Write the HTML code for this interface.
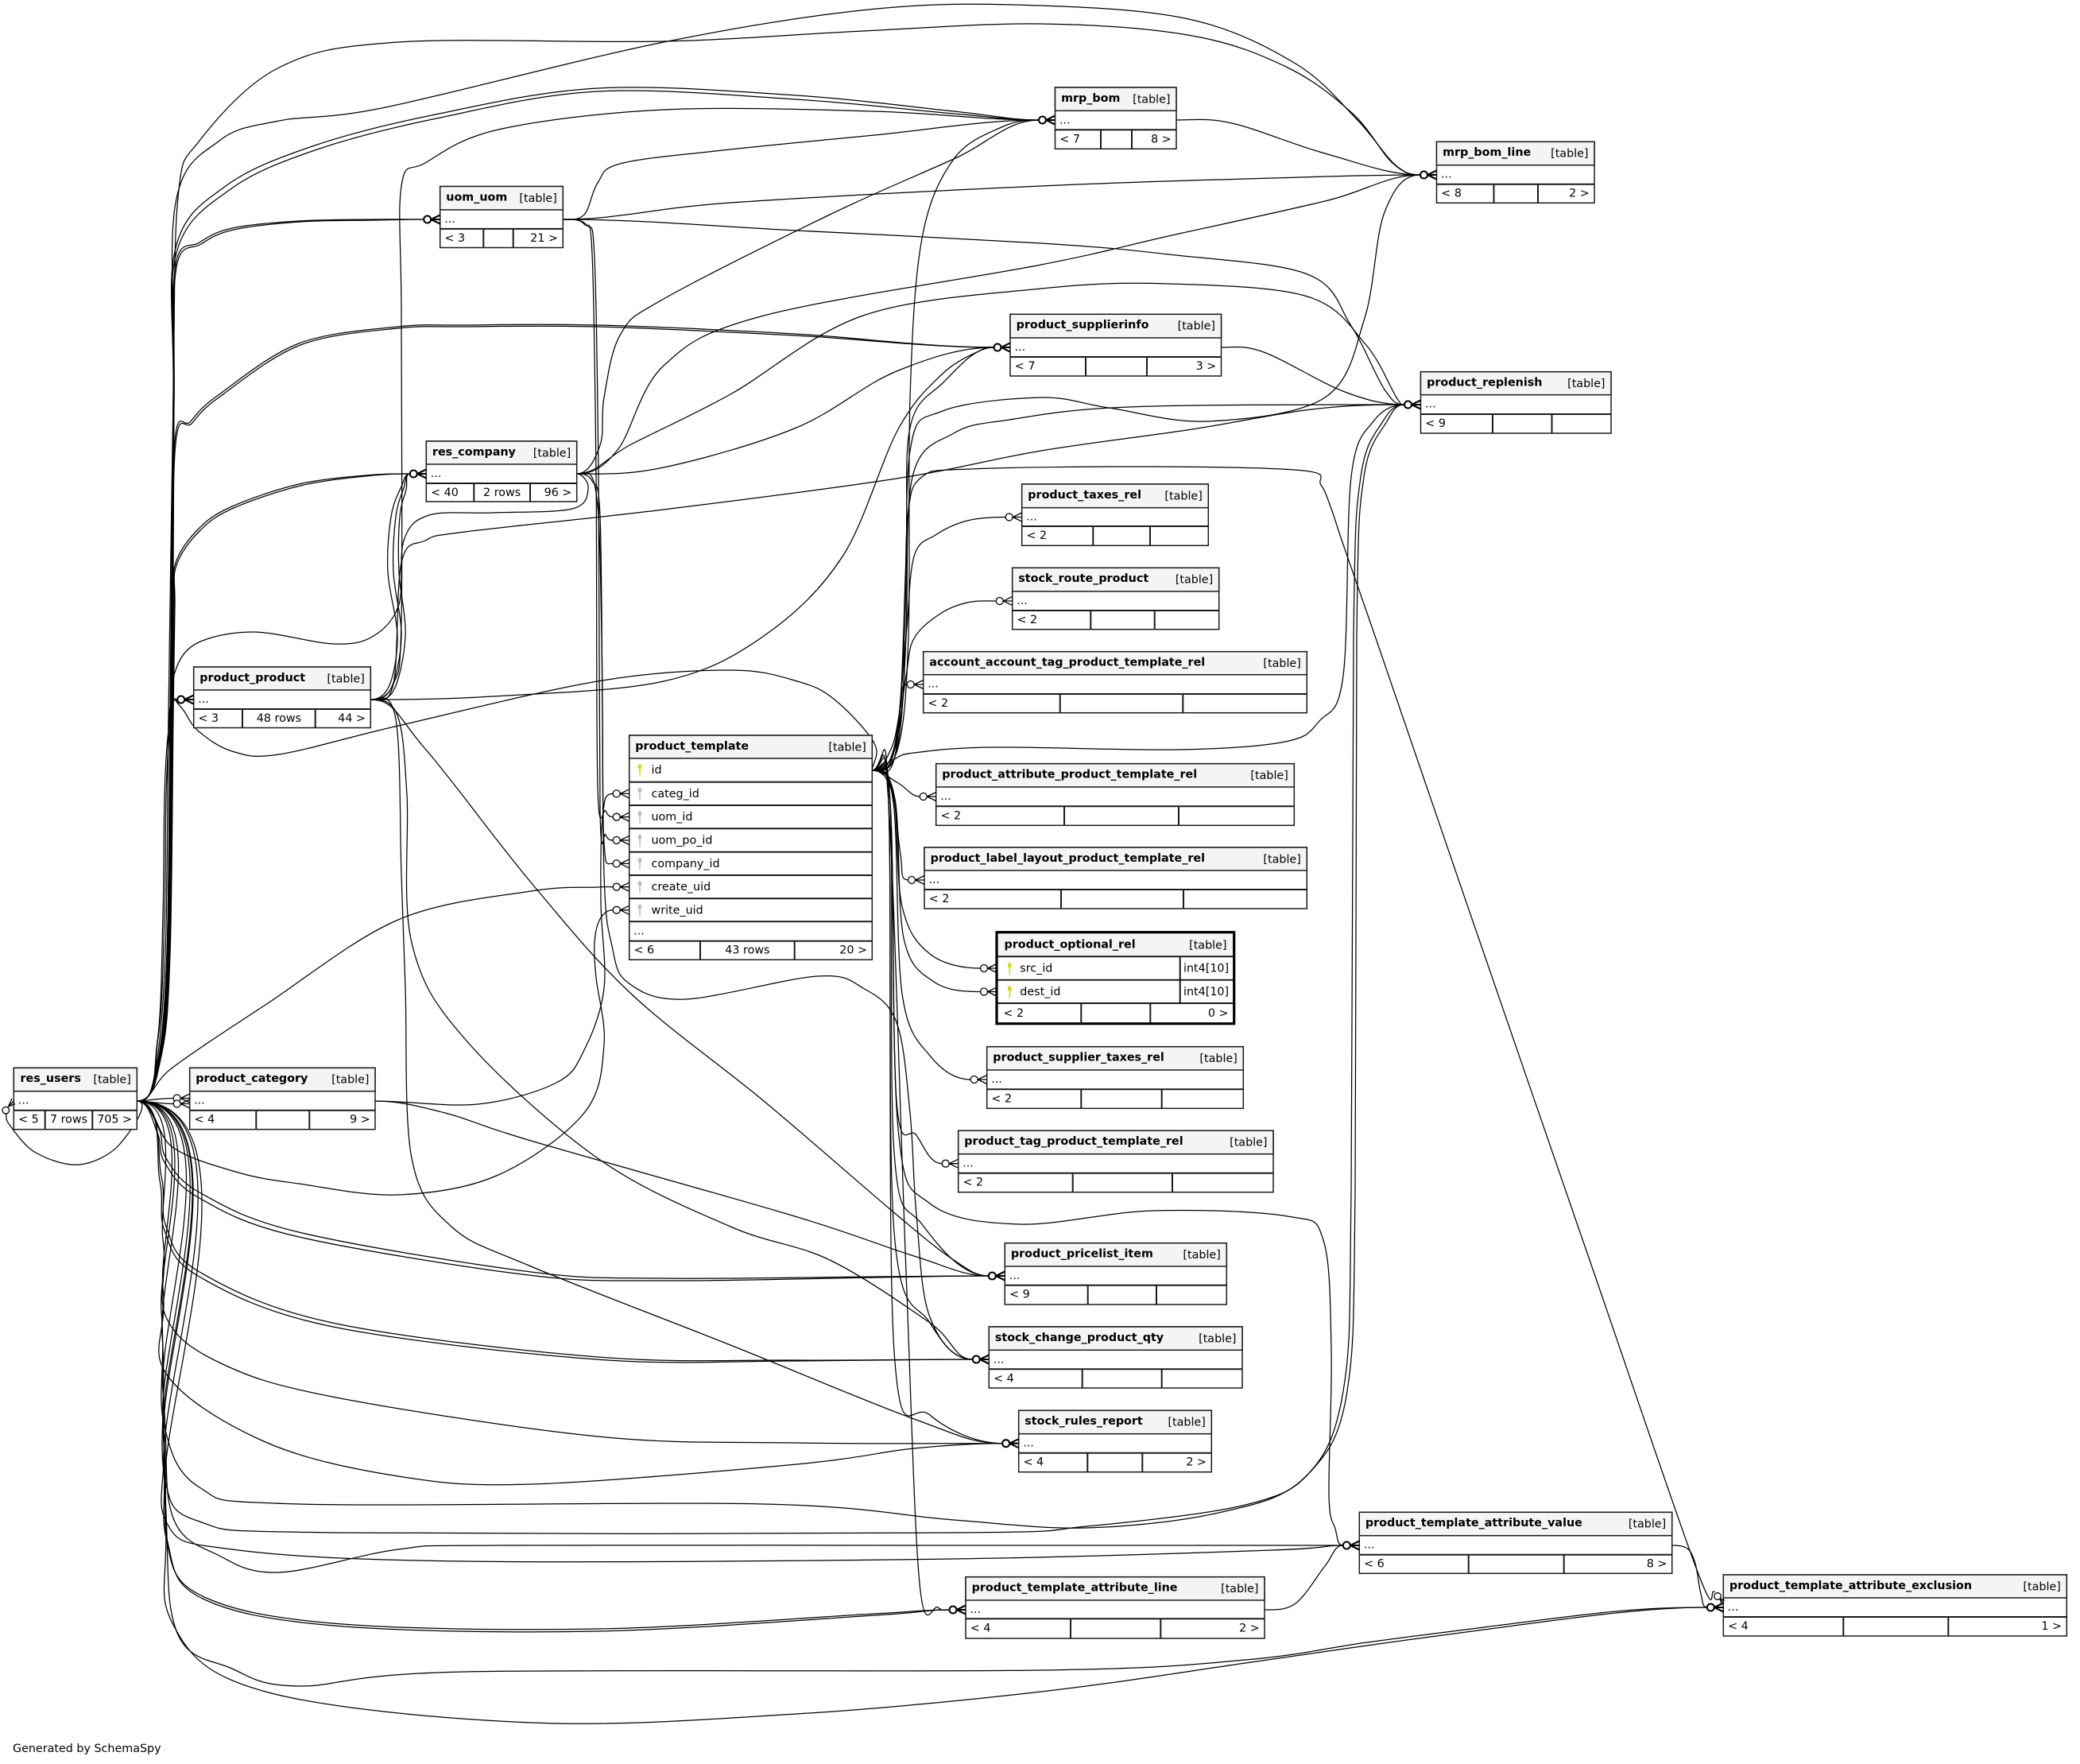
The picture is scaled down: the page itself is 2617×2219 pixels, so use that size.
<!DOCTYPE html>
<html><head><meta charset="utf-8"><title>SchemaSpy diagram</title>
<style>
html,body{margin:0;padding:0;background:#fff;}
svg{display:block;}
text{font-family:"DejaVu Sans","Liberation Sans",sans-serif;font-size:14.3px;fill:#000;}
.n{font-weight:bold;}
.e{text-anchor:end;}
.m{text-anchor:middle;}
.b{fill:#fff;stroke:#1a1a1a;stroke-width:1.5;}
.h{fill:#f4f4f4;stroke:#1a1a1a;stroke-width:1.5;}
.l{stroke:#1a1a1a;stroke-width:2;}
.k{fill:#d8d800;}
.g{fill:#bdbdbd;}
</style></head>
<body>
<svg id="s" xmlns="http://www.w3.org/2000/svg" width="2617" height="2219" viewBox="0 0 2617 2219">
<rect x="0" y="0" width="2617" height="2219" fill="#fff"/>
<g id="edges" fill="none" stroke="#000" stroke-width="1.25"></g>

<!-- mrp_bom -->
<g><rect class="b" x="1327.5" y="110" width="152.5" height="77.3"/><rect class="h" x="1327.5" y="110" width="152.5" height="29.3"/>
<line class="l" x1="1327.5" y1="163.3" x2="1480" y2="163.3"/><line class="l" x1="1385" y1="163.3" x2="1385" y2="187.3"/><line class="l" x1="1424" y1="163.3" x2="1424" y2="187.3"/>
<text class="n" x="1335.1" y="127.8">mrp_bom</text><text class="e" x="1472.5" y="129.4">[table]</text>
<text x="1333" y="155.3">...</text><text x="1333.3" y="179.3">&lt; 7</text><text class="e" x="1473.7" y="179.3">8 &gt;</text></g>

<!-- mrp_bom_line -->
<g><rect class="b" x="1807.5" y="178.3" width="198.5" height="77"/><rect class="h" x="1807.5" y="178.3" width="198.5" height="29.4"/>
<line class="l" x1="1807.5" y1="231.7" x2="2006" y2="231.7"/><line class="l" x1="1879.5" y1="231.7" x2="1879.5" y2="255.3"/><line class="l" x1="1935" y1="231.7" x2="1935" y2="255.3"/>
<text class="n" x="1815.1" y="196.1">mrp_bom_line</text><text class="e" x="1998.5" y="197.7">[table]</text>
<text x="1813" y="223.7">...</text><text x="1813.3" y="247.7">&lt; 8</text><text class="e" x="1999.7" y="247.7">2 &gt;</text></g>

<!-- uom_uom -->
<g><rect class="b" x="553.7" y="234.5" width="154.6" height="77"/><rect class="h" x="553.7" y="234.5" width="154.6" height="29.4"/>
<line class="l" x1="553.7" y1="287.9" x2="708.3" y2="287.9"/><line class="l" x1="608.3" y1="287.9" x2="608.3" y2="311.5"/><line class="l" x1="645.7" y1="287.9" x2="645.7" y2="311.5"/>
<text class="n" x="561.3" y="252.3">uom_uom</text><text class="e" x="700.8" y="253.9">[table]</text>
<text x="559.2" y="279.9">...</text><text x="559.5" y="303.9">&lt; 3</text><text class="e" x="702" y="303.9">21 &gt;</text></g>

<!-- product_supplierinfo -->
<g><rect class="b" x="1271" y="395.3" width="265.5" height="77.7"/><rect class="h" x="1271" y="395.3" width="265.5" height="29.7"/>
<line class="l" x1="1271" y1="449" x2="1536.5" y2="449"/><line class="l" x1="1366" y1="449" x2="1366" y2="473"/><line class="l" x1="1443" y1="449" x2="1443" y2="473"/>
<text class="n" x="1278.6" y="413.1">product_supplierinfo</text><text class="e" x="1529" y="414.7">[table]</text>
<text x="1276.5" y="441">...</text><text x="1276.8" y="465">&lt; 7</text><text class="e" x="1530.2" y="465">3 &gt;</text></g>

<!-- product_replenish -->
<g><rect class="b" x="1787.5" y="467.7" width="239.5" height="77.3"/><rect class="h" x="1787.5" y="467.7" width="239.5" height="29"/>
<line class="l" x1="1787.5" y1="521" x2="2027" y2="521"/><line class="l" x1="1878" y1="521" x2="1878" y2="545"/><line class="l" x1="1952.5" y1="521" x2="1952.5" y2="545"/>
<text class="n" x="1795.1" y="485.5">product_replenish</text><text class="e" x="2019.5" y="487.1">[table]</text>
<text x="1793" y="512.7">...</text><text x="1793.3" y="537">&lt; 9</text></g>

<!-- res_company -->
<g><rect class="b" x="536.3" y="555" width="189.4" height="76"/><rect class="h" x="536.3" y="555" width="189.4" height="29"/>
<line class="l" x1="536.3" y1="608" x2="725.7" y2="608"/><line class="l" x1="596.3" y1="608" x2="596.3" y2="631"/><line class="l" x1="667" y1="608" x2="667" y2="631"/>
<text class="n" x="543.9" y="572.8">res_company</text><text class="e" x="718.2" y="574.4">[table]</text>
<text x="541.8" y="600">...</text><text x="542.1" y="624">&lt; 40</text><text class="m" x="631.6" y="624">2 rows</text><text class="e" x="719.4" y="624">96 &gt;</text></g>

<!-- product_taxes_rel -->
<g><rect class="b" x="1285.7" y="609" width="234.6" height="77.3"/><rect class="h" x="1285.7" y="609" width="234.6" height="29.7"/>
<line class="l" x1="1285.7" y1="662" x2="1520.3" y2="662"/><line class="l" x1="1375.3" y1="662" x2="1375.3" y2="686.3"/><line class="l" x1="1447" y1="662" x2="1447" y2="686.3"/>
<text class="n" x="1293.3" y="626.8">product_taxes_rel</text><text class="e" x="1512.8" y="628.4">[table]</text>
<text x="1291.2" y="654.7">...</text><text x="1291.5" y="678">&lt; 2</text></g>

<!-- stock_route_product -->
<g><rect class="b" x="1273.7" y="714.3" width="260" height="77.4"/><rect class="h" x="1273.7" y="714.3" width="260" height="29.7"/>
<line class="l" x1="1273.7" y1="768" x2="1533.7" y2="768"/><line class="l" x1="1372.3" y1="768" x2="1372.3" y2="791.7"/><line class="l" x1="1452.7" y1="768" x2="1452.7" y2="791.7"/>
<text class="n" x="1281.3" y="732.1">stock_route_product</text><text class="e" x="1526.2" y="733.7">[table]</text>
<text x="1279.2" y="760">...</text><text x="1279.5" y="784">&lt; 2</text></g>

<!-- account_account_tag_product_template_rel -->
<g><rect class="b" x="1161.7" y="819.7" width="482.6" height="77"/><rect class="h" x="1161.7" y="819.7" width="482.6" height="29"/>
<line class="l" x1="1161.7" y1="873" x2="1644.3" y2="873"/><line class="l" x1="1333.7" y1="873" x2="1333.7" y2="896.7"/><line class="l" x1="1488.3" y1="873" x2="1488.3" y2="896.7"/>
<text class="n" x="1169.3" y="837.5">account_account_tag_product_template_rel</text><text class="e" x="1636.8" y="839.1">[table]</text>
<text x="1167.2" y="864.7">...</text><text x="1167.5" y="889">&lt; 2</text></g>

<!-- product_product -->
<g><rect class="b" x="243.7" y="839" width="222.6" height="76.5"/><rect class="h" x="243.7" y="839" width="222.6" height="29"/>
<line class="l" x1="243.7" y1="892" x2="466.3" y2="892"/><line class="l" x1="305" y1="892" x2="305" y2="915.5"/><line class="l" x1="396.7" y1="892" x2="396.7" y2="915.5"/>
<text class="n" x="251.3" y="856.8">product_product</text><text class="e" x="458.8" y="858.4">[table]</text>
<text x="249.2" y="884">...</text><text x="249.5" y="908">&lt; 3</text><text class="m" x="350.9" y="908">48 rows</text><text class="e" x="460" y="908">44 &gt;</text></g>

<!-- product_attribute_product_template_rel -->
<g><rect class="b" x="1177.7" y="960.7" width="450.6" height="77.6"/><rect class="h" x="1177.7" y="960.7" width="450.6" height="29.3"/>
<line class="l" x1="1177.7" y1="1014.3" x2="1628.3" y2="1014.3"/><line class="l" x1="1339" y1="1014.3" x2="1339" y2="1038.3"/><line class="l" x1="1483" y1="1014.3" x2="1483" y2="1038.3"/>
<text class="n" x="1185.3" y="978.5">product_attribute_product_template_rel</text><text class="e" x="1620.8" y="980.1">[table]</text>
<text x="1183.2" y="1006">...</text><text x="1183.5" y="1030.3">&lt; 2</text></g>

<!-- product_label_layout_product_template_rel -->
<g><rect class="b" x="1163" y="1066" width="481.3" height="77"/><rect class="h" x="1163" y="1066" width="481.3" height="29"/>
<line class="l" x1="1163" y1="1119" x2="1644.3" y2="1119"/><line class="l" x1="1335" y1="1119" x2="1335" y2="1143"/><line class="l" x1="1489" y1="1119" x2="1489" y2="1143"/>
<text class="n" x="1170.6" y="1083.8">product_label_layout_product_template_rel</text><text class="e" x="1636.8" y="1085.4">[table]</text>
<text x="1168.5" y="1111">...</text><text x="1168.8" y="1135">&lt; 2</text></g>

<!-- product_template -->
<g><rect class="b" x="791.7" y="925" width="305.6" height="282.3"/><rect class="h" x="791.7" y="925" width="305.6" height="29"/>
<line class="l" x1="791.7" y1="983.7" x2="1097.3" y2="983.7"/><line class="l" x1="791.7" y1="1013" x2="1097.3" y2="1013"/>
<line class="l" x1="791.7" y1="1042.3" x2="1097.3" y2="1042.3"/><line class="l" x1="791.7" y1="1071.7" x2="1097.3" y2="1071.7"/>
<line class="l" x1="791.7" y1="1101" x2="1097.3" y2="1101"/><line class="l" x1="791.7" y1="1130.3" x2="1097.3" y2="1130.3"/>
<line class="l" x1="791.7" y1="1159.3" x2="1097.3" y2="1159.3"/><line class="l" x1="791.7" y1="1183.7" x2="1097.3" y2="1183.7"/>
<line class="l" x1="881" y1="1183.7" x2="881" y2="1207.3"/><line class="l" x1="999.7" y1="1183.7" x2="999.7" y2="1207.3"/>
<text class="n" x="799.3" y="942.8">product_template</text><text class="e" x="1089.8" y="944.4">[table]</text>
<g class="k"><ellipse cx="805" cy="964.5" rx="2.4" ry="3.3"/><rect x="804.3" y="966" width="1.5" height="10.7"/></g>
<g class="g"><ellipse cx="805" cy="994.2" rx="2.4" ry="3.3"/><rect x="804.3" y="995.7" width="1.5" height="10.7"/>
<ellipse cx="805" cy="1023.5" rx="2.4" ry="3.3"/><rect x="804.3" y="1025" width="1.5" height="10.7"/>
<ellipse cx="805" cy="1052.8" rx="2.4" ry="3.3"/><rect x="804.3" y="1054.3" width="1.5" height="10.7"/>
<ellipse cx="805" cy="1082.2" rx="2.4" ry="3.3"/><rect x="804.3" y="1083.7" width="1.5" height="10.7"/>
<ellipse cx="805" cy="1111.5" rx="2.4" ry="3.3"/><rect x="804.3" y="1113" width="1.5" height="10.7"/>
<ellipse cx="805" cy="1140.8" rx="2.4" ry="3.3"/><rect x="804.3" y="1142.3" width="1.5" height="10.7"/></g>
<text x="819.5" y="973.2">id</text><text x="819.5" y="1002.9">categ_id</text><text x="819.5" y="1032.2">uom_id</text>
<text x="819.5" y="1061.5">uom_po_id</text><text x="819.5" y="1090.9">company_id</text><text x="819.5" y="1120.2">create_uid</text>
<text x="819.5" y="1149.5">write_uid</text><text x="797.2" y="1175.3">...</text>
<text x="797.5" y="1199.7">&lt; 6</text><text class="m" x="940.4" y="1199.7">43 rows</text><text class="e" x="1091" y="1199.7">20 &gt;</text></g>

<!-- product_optional_rel -->
<g><rect x="1254" y="1172.7" width="298.7" height="115" fill="#fff"/><rect x="1254" y="1172.7" width="298.7" height="30.6" fill="#f4f4f4"/>
<line class="l" x1="1254" y1="1203.3" x2="1552.7" y2="1203.3"/><line class="l" x1="1254" y1="1232.7" x2="1552.7" y2="1232.7"/>
<line class="l" x1="1254" y1="1262" x2="1552.7" y2="1262"/><line class="l" x1="1484.7" y1="1203.3" x2="1484.7" y2="1262"/>
<line class="l" x1="1360.3" y1="1262" x2="1360.3" y2="1287.7"/><line class="l" x1="1447.3" y1="1262" x2="1447.3" y2="1287.7"/>
<rect x="1254" y="1172.7" width="298.7" height="115" fill="none" stroke="#000" stroke-width="3.2"/>
<text class="n" x="1263.5" y="1192.3">product_optional_rel</text><text class="e" x="1543.5" y="1193.5">[table]</text>
<g class="k"><ellipse cx="1270.3" cy="1214.3" rx="2.4" ry="3.3"/><rect x="1269.6" y="1215.8" width="1.5" height="10.7"/>
<ellipse cx="1270.3" cy="1243.6" rx="2.4" ry="3.3"/><rect x="1269.6" y="1245.1" width="1.5" height="10.7"/></g>
<text x="1283.3" y="1222.5">src_id</text><text x="1489" y="1222.5">int4[10]</text>
<text x="1283.3" y="1251.8">dest_id</text><text x="1489" y="1251.8">int4[10]</text>
<text x="1262.5" y="1279">&lt; 2</text><text class="e" x="1545.5" y="1279">0 &gt;</text></g>

<!-- product_supplier_taxes_rel -->
<g><rect class="b" x="1241.7" y="1316.7" width="322.6" height="77.6"/><rect class="h" x="1241.7" y="1316.7" width="322.6" height="29.3"/>
<line class="l" x1="1241.7" y1="1370.3" x2="1564.3" y2="1370.3"/><line class="l" x1="1360.3" y1="1370.3" x2="1360.3" y2="1394.3"/><line class="l" x1="1461.7" y1="1370.3" x2="1461.7" y2="1394.3"/>
<text class="n" x="1249.3" y="1334.5">product_supplier_taxes_rel</text><text class="e" x="1556.8" y="1336.1">[table]</text>
<text x="1247.2" y="1362">...</text><text x="1247.5" y="1386.3">&lt; 2</text></g>

<!-- product_tag_product_template_rel -->
<g><rect class="b" x="1205.7" y="1422.3" width="396.3" height="77.4"/><rect class="h" x="1205.7" y="1422.3" width="396.3" height="29.4"/>
<line class="l" x1="1205.7" y1="1475.7" x2="1602" y2="1475.7"/><line class="l" x1="1349.7" y1="1475.7" x2="1349.7" y2="1499.7"/><line class="l" x1="1475" y1="1475.7" x2="1475" y2="1499.7"/>
<text class="n" x="1213.3" y="1440.1">product_tag_product_template_rel</text><text class="e" x="1594.5" y="1441.7">[table]</text>
<text x="1211.2" y="1467.7">...</text><text x="1211.5" y="1491.7">&lt; 2</text></g>

<!-- res_users -->
<g><rect class="b" x="17.3" y="1343.3" width="155" height="77.4"/><rect class="h" x="17.3" y="1343.3" width="155" height="29.4"/>
<line class="l" x1="17.3" y1="1396.7" x2="172.3" y2="1396.7"/><line class="l" x1="56.7" y1="1396.7" x2="56.7" y2="1420.7"/><line class="l" x1="116.3" y1="1396.7" x2="116.3" y2="1420.7"/>
<text class="n" x="25.5" y="1361.1">res_users</text><text class="e" x="164.8" y="1362.7">[table]</text>
<text x="22.8" y="1388.7">...</text><text x="23.1" y="1412.7">&lt; 5</text><text class="m" x="86.5" y="1412.7">7 rows</text><text class="e" x="166" y="1412.7">705 &gt;</text></g>

<!-- product_category -->
<g><rect class="b" x="238.7" y="1343.3" width="233.3" height="77.4"/><rect class="h" x="238.7" y="1343.3" width="233.3" height="29.4"/>
<line class="l" x1="238.7" y1="1396.7" x2="472" y2="1396.7"/><line class="l" x1="322.3" y1="1396.7" x2="322.3" y2="1420.7"/><line class="l" x1="389.3" y1="1396.7" x2="389.3" y2="1420.7"/>
<text class="n" x="246.3" y="1361.1">product_category</text><text class="e" x="464.5" y="1362.7">[table]</text>
<text x="244.2" y="1388.7">...</text><text x="244.5" y="1412.7">&lt; 4</text><text class="e" x="465.7" y="1412.7">9 &gt;</text></g>

<!-- product_pricelist_item -->
<g><rect class="b" x="1264.3" y="1563.7" width="279" height="77.3"/><rect class="h" x="1264.3" y="1563.7" width="279" height="29.3"/>
<line class="l" x1="1264.3" y1="1616.7" x2="1543.3" y2="1616.7"/><line class="l" x1="1368.7" y1="1616.7" x2="1368.7" y2="1641"/><line class="l" x1="1455" y1="1616.7" x2="1455" y2="1641"/>
<text class="n" x="1271.9" y="1581.5">product_pricelist_item</text><text class="e" x="1535.8" y="1583.1">[table]</text>
<text x="1269.8" y="1609">...</text><text x="1270.1" y="1632.7">&lt; 9</text></g>

<!-- stock_change_product_qty -->
<g><rect class="b" x="1244.3" y="1669" width="318.7" height="77"/><rect class="h" x="1244.3" y="1669" width="318.7" height="29.3"/>
<line class="l" x1="1244.3" y1="1722.3" x2="1563" y2="1722.3"/><line class="l" x1="1361.7" y1="1722.3" x2="1361.7" y2="1746"/><line class="l" x1="1461.7" y1="1722.3" x2="1461.7" y2="1746"/>
<text class="n" x="1251.9" y="1686.8">stock_change_product_qty</text><text class="e" x="1555.5" y="1688.4">[table]</text>
<text x="1249.8" y="1714.3">...</text><text x="1250.1" y="1738.3">&lt; 4</text></g>

<!-- stock_rules_report -->
<g><rect class="b" x="1281.7" y="1774.3" width="242.6" height="77.4"/><rect class="h" x="1281.7" y="1774.3" width="242.6" height="29.4"/>
<line class="l" x1="1281.7" y1="1827.7" x2="1524.3" y2="1827.7"/><line class="l" x1="1368.3" y1="1827.7" x2="1368.3" y2="1851.7"/><line class="l" x1="1437.3" y1="1827.7" x2="1437.3" y2="1851.7"/>
<text class="n" x="1289.3" y="1792.1">stock_rules_report</text><text class="e" x="1516.8" y="1793.7">[table]</text>
<text x="1287.2" y="1819.7">...</text><text x="1287.5" y="1843.7">&lt; 4</text><text class="e" x="1518" y="1843.7">2 &gt;</text></g>

<!-- product_template_attribute_value -->
<g><rect class="b" x="1710.3" y="1902.3" width="393.4" height="77"/><rect class="h" x="1710.3" y="1902.3" width="393.4" height="29.4"/>
<line class="l" x1="1710.3" y1="1955.7" x2="2103.7" y2="1955.7"/><line class="l" x1="1847.7" y1="1955.7" x2="1847.7" y2="1979.3"/><line class="l" x1="1967.7" y1="1955.7" x2="1967.7" y2="1979.3"/>
<text class="n" x="1717.9" y="1920.1">product_template_attribute_value</text><text class="e" x="2096.2" y="1921.7">[table]</text>
<text x="1715.8" y="1947.7">...</text><text x="1716.1" y="1971.7">&lt; 6</text><text class="e" x="2097.4" y="1971.7">8 &gt;</text></g>

<!-- product_template_attribute_line -->
<g><rect class="b" x="1215" y="1983.7" width="376" height="77.3"/><rect class="h" x="1215" y="1983.7" width="376" height="29.3"/>
<line class="l" x1="1215" y1="2036.3" x2="1591" y2="2036.3"/><line class="l" x1="1347" y1="2036.3" x2="1347" y2="2061"/><line class="l" x1="1460.3" y1="2036.3" x2="1460.3" y2="2061"/>
<text class="n" x="1222.6" y="2001.5">product_template_attribute_line</text><text class="e" x="1583.5" y="2003.1">[table]</text>
<text x="1220.5" y="2029">...</text><text x="1220.8" y="2052.3">&lt; 4</text><text class="e" x="1584.7" y="2052.3">2 &gt;</text></g>

<!-- product_template_attribute_exclusion -->
<g><rect class="b" x="2168.3" y="1981" width="432" height="77"/><rect class="h" x="2168.3" y="1981" width="432" height="29"/>
<line class="l" x1="2168.3" y1="2034" x2="2600.3" y2="2034"/><line class="l" x1="2319.3" y1="2034" x2="2319.3" y2="2058"/><line class="l" x1="2451.3" y1="2034" x2="2451.3" y2="2058"/>
<text class="n" x="2175.9" y="1998.8">product_template_attribute_exclusion</text><text class="e" x="2592.8" y="2000.4">[table]</text>
<text x="2173.8" y="2026">...</text><text x="2174.1" y="2050">&lt; 4</text><text class="e" x="2594" y="2050">1 &gt;</text></g>

<text x="16" y="2204">Generated by SchemaSpy</text>

<g id="marks" fill="#fff" stroke="#000"></g>
</svg>
<script>
(function(){
var NS='http://www.w3.org/2000/svg';
var eg=document.getElementById('edges'), mg=document.getElementById('marks');
var PR={RU:[172.3,1385],PP:[466.3,880],UOM:[708.3,276],RC:[725.7,596],PT:[1097.3,969],PC:[472,1385],MB:[1480,151],SI:[1536.5,437],AV:[2103.7,1944],AL:[1591,2025]};
var CH={mb:[1327.5,151],mbl:[1807.5,220],uom:[553.7,276],si:[1271,437],rep:[1787.5,509],rc:[536.3,596],tax:[1285.7,650.5],route:[1273.7,756],acct:[1161.7,861],attr:[1177.7,1002],label:[1163,1107],osrc:[1254,1218],odst:[1254,1247.5],stax:[1241.7,1358],tag:[1205.7,1463.7],price:[1264.3,1605],chg:[1244.3,1710],rules:[1281.7,1815.7],av:[1710.3,1944],al:[1215,2025],excl:[2168.3,2022],pp:[243.7,880],pca:[238.7,1381.5],pcb:[238.7,1388.5],categ:[791.7,998.4],uomid:[791.7,1027.7],uompo:[791.7,1057],comp:[791.7,1086.4],cre:[791.7,1115.7],wri:[791.7,1144.8]};
var E=[
['RU','mbl',[[195,1350],[208,1200],[212,900],[218,500],[224,248],[251,177],[351,85],[501,53],[835,52],[1086,39],[1310,30],[1500,45],[1620,85],[1702,143],[1752,205]]],
['RU','mbl',[[197,1345],[210,1200],[214,900],[219,500],[221,255],[276,177],[351,152],[485,135],[835,53],[1103,11],[1310,7],[1500,25],[1630,80],[1707,150],[1755,207]]],
['RU','mb',[[198,1340],[210,1200],[214,900],[218,500],[221,312],[284,234],[393,184],[543,145],[752,111],[1002,120],[1200,140]]],
['RU','mb',[[199,1338],[211,1200],[215,900],[219,500],[222,318],[290,238],[399,188],[549,149],[752,115],[1002,125],[1200,143]]],
['RU','uom',[[200,1335],[212,1200],[216,900],[218,500],[221,333],[251,305],[292,287],[376,278],[470,276]]],
['RU','uom',[[201,1333],[213,1200],[217,900],[219,500],[222,336],[253,307],[294,289],[378,279],[470,277]]],
['RU','si',[[201,1330],[212,1200],[216,900],[219,567],[240,530],[276,496],[376,432],[500,411],[585,409],[752,409],[1000,420]]],
['RU','si',[[202,1328],[213,1200],[217,900],[220,570],[242,532],[278,498],[378,434],[500,413],[585,411],[752,411],[1000,422]]],
['RU','rc',[[202,1330],[213,1200],[217,900],[219,760],[221,708],[250,665],[292,637],[376,609],[460,598]]],
['RU','rc',[[203,1328],[214,1200],[218,900],[220,762],[222,711],[252,667],[294,639],[378,611],[460,599]]],
['RU','pp',[[198,1310],[205,1150],[207,1000],[212,920]]],
['RU','pp',[[199,1305],[207,1150],[209,1000],[214,915]]],
['RU','cre',[[217,1343],[334,1264],[501,1157],[668,1121],[752,1116]]],
['RU','wri',[[217,1443],[300,1475],[376,1489],[501,1503],[627,1478],[735,1400],[760,1314],[750,1230],[748,1186],[755,1156]]],
['RU','pca',[[195,1383]]],
['RU','pcb',[[195,1387]]],
['RU','price',[[200,1420],[209,1457],[251,1500],[376,1550],[668,1600],[835,1608],[1100,1606]]],
['RU','price',[[198,1425],[207,1462],[249,1506],[372,1555],[665,1604],[835,1611],[1100,1607]]],
['RU','chg',[[203,1480],[209,1543],[251,1600],[418,1664],[752,1707],[1000,1711]]],
['RU','chg',[[201,1485],[207,1548],[249,1605],[414,1668],[750,1710],[1000,1712]]],
['RU','rules',[[205,1560],[209,1657],[276,1714],[418,1757],[752,1807],[1000,1815]]],
['RU','rules',[[205,1620],[209,1728],[334,1814],[501,1857],[668,1867],[1002,1842],[1150,1822]]],
['RU','rep',[[203,1650],[206,1790],[251,1871],[376,1892],[961,1892],[1200,1912],[1367,1922],[1533,1903],[1640,1860],[1690,1750],[1700,1500],[1703,800],[1712,600],[1740,530]]],
['RU','rep',[[204,1680],[207,1857],[251,1914],[418,1928],[1200,1928],[1367,1920],[1567,1893],[1650,1850],[1695,1750],[1705,1500],[1707,800],[1716,600],[1745,530]]],
['RU','av',[[205,1750],[217,1907],[276,1957],[351,1978],[501,1949],[627,1944],[1200,1944]]],
['RU','av',[[205,1780],[209,1914],[292,1949],[585,1964],[1200,1961],[1600,1950]]],
['RU','al',[[205,1800],[209,1935],[251,2006],[418,2042],[752,2049],[1100,2030]]],
['RU','al',[[206,1805],[211,1940],[253,2010],[420,2045],[752,2052],[1100,2032]]],
['RU','excl',[[206,1850],[221,2049],[292,2099],[376,2121],[585,2103],[1310,2101],[1567,2088],[1720,2066],[1867,2047],[2033,2027]]],
['RU','excl',[[207,1880],[217,2042],[334,2128],[668,2167],[1002,2156],[1310,2128],[1567,2092],[1720,2070],[1867,2050],[2033,2029]]],
['PC','categ',[[601,1389],[700,1362],[735,1321],[760,1243],[756,1136],[758,1030]]],
['PC','price',[[560,1400],[668,1435],[1000,1530],[1150,1580]]],
['PP','rc',[[490,862],[500,800],[488,720],[492,650],[505,612]]],
['PP','rc',[[492,866],[505,800],[495,720],[498,650],[508,614]]],
['PP','rc',[[495,869],[510,800],[502,720],[503,650],[511,616]]],
['PP','mb',[[495,860],[505,780],[505,400],[505,234],[535,205],[627,163],[835,138],[1100,140]]],
['PP','price',[[535,942],[668,1110],[794,1250],[961,1385],[1128,1528],[1200,1585]]],
['PP','chg',[[500,900],[512,1000],[518,1186],[585,1307],[752,1457],[919,1543],[1044,1585],[1170,1664]]],
['PP','rules',[[498,905],[505,1100],[510,1243],[518,1457],[568,1543],[668,1593],[919,1692],[1150,1785]]],
['PP','rep',[[495,860],[505,708],[535,680],[585,669],[835,641],[1128,602],[1310,567],[1500,540],[1650,515]]],
['PP','si',[[620,876],[835,857],[961,800],[1060,700],[1130,540],[1186,470],[1235,440]]],
['UOM','uomid',[[735,282],[745,320],[750,600],[752,990],[762,1020]]],
['UOM','uompo',[[738,283],[748,325],[753,600],[755,1020],[762,1050]]],
['UOM','mb',[[735,270],[752,230],[780,206],[900,190],[1100,170]]],
['UOM','mbl',[[919,255],[1310,234],[1600,224]]],
['UOM','rep',[[1002,290],[1310,306],[1470,320],[1645,345],[1700,410],[1742,490]]],
['RC','comp',[[745,605],[755,650],[758,900],[760,1060]]],
['RC','mb',[[755,560],[760,500],[781,420],[835,376],[1044,270],[1200,200]]],
['RC','mbl',[[777,566],[835,460],[961,397],[1310,333],[1470,297],[1667,253]]],
['RC','rep',[[794,559],[919,496],[1086,397],[1310,363],[1470,357],[1645,373],[1718,433],[1757,500]]],
['RC','si',[[835,588],[1002,538],[1128,467]]],
['RC','pp',[[740,615],[720,640],[620,645],[540,648],[508,680],[502,760],[470,800],[420,810],[320,795],[250,808],[222,840]]],
['RC','chg',[[750,620],[757,800],[760,1100],[770,1190],[790,1236],[861,1257],[1028,1228],[1086,1243],[1128,1286],[1145,1400],[1153,1528],[1170,1657]]],
['PT','tax',[[1125,940],[1140,800],[1150,700],[1177,673],[1217,655]]],
['PT','route',[[1125,945],[1140,850],[1150,803],[1183,772],[1217,758]]],
['PT','acct',[[1122,940],[1133,890]]],
['PT','attr',[[1130,985]]],
['PT','label',[[1122,995],[1133,1075]]],
['PT','osrc',[[1124,1000],[1135,1140],[1170,1200]]],
['PT','odst',[[1126,1005],[1137,1180],[1175,1235]]],
['PT','stax',[[1124,1010],[1135,1250],[1170,1328]]],
['PT','tag',[[1120,1010],[1128,1385],[1153,1428]]],
['PT','price',[[1120,1010],[1125,1450],[1160,1540]]],
['PT','chg',[[1118,1010],[1125,1550],[1170,1664]]],
['PT','rules',[[1118,1010],[1125,1700],[1170,1780]]],
['PT','al',[[1118,1010],[1140,1600],[1157,1992],[1180,2022]]],
['PT','av',[[1120,1010],[1130,1420],[1170,1514],[1283,1540],[1450,1523],[1620,1530],[1665,1560],[1675,1700],[1672,1880],[1680,1923]]],
['PT','excl',[[1125,945],[1138,800],[1142,650],[1160,600],[1220,590],[1450,587],[1640,592],[1662,610],[1675,640],[1690,685],[1730,800],[1850,1150],[2000,1585],[2135,1975]],{he:false,end:[2157.5,2003]}],
['PT','mb',[[1130,940],[1143,800],[1145,500],[1160,300],[1200,200],[1260,160]]],
['PT','mbl',[[1128,945],[1140,800],[1145,567],[1186,517],[1310,500],[1395,513],[1520,530],[1667,500],[1717,400],[1742,267]]],
['PT','si',[[1128,940],[1140,700],[1145,538],[1186,482]]],
['PT','rep',[[1125,955],[1150,947],[1250,940],[1483,943],[1617,933],[1660,907],[1690,850],[1700,600],[1728,530]]],
['PT','rep',[[1128,945],[1140,800],[1148,600],[1200,545],[1270,528],[1420,512]]],
['PT','pp',[[1100,935],[1050,880],[1003,857],[919,843],[752,857],[501,913],[351,949],[292,945],[250,920],[232,895]],{hs:false}],
['MB','mbl',[[1550,155],[1667,193]]],
['SI','rep',[[1590,443],[1692,493]]],
['AV','excl',[[2123,1948],[2133,1967],[2140,2005]]],
['AL','av',[[1630,2017],[1667,1970]]]
];
function dp(p,hs,he){
 var s='M'+p[0][0]+' '+p[0][1],n=p.length;
 for(var i=0;i<n-1;i++){
  var a=p[i],b=p[i+1],L=Math.hypot(b[0]-a[0],b[1]-a[1]),c1,c2;
  if(i===0){c1=hs?[a[0]+L/3,a[1]]:[a[0]+(b[0]-a[0])/3,a[1]+(b[1]-a[1])/3];}
  else{var q=p[i-1];c1=[a[0]+(b[0]-q[0])/6,a[1]+(b[1]-q[1])/6];}
  if(i===n-2){c2=he?[b[0]-L/3,b[1]]:[b[0]-(b[0]-a[0])/3,b[1]-(b[1]-a[1])/3];}
  else{var r=p[i+2];c2=[b[0]-(r[0]-a[0])/6,b[1]-(r[1]-a[1])/6];}
  s+=' C'+c1[0].toFixed(1)+' '+c1[1].toFixed(1)+' '+c2[0].toFixed(1)+' '+c2[1].toFixed(1)+' '+b[0]+' '+b[1];
 }
 return s;
}
function add(par,tag,at){var e=document.createElementNS(NS,tag);for(var k in at)e.setAttribute(k,at[k]);par.appendChild(e);return e;}
var cnt={};
E.forEach(function(e){
 var a=PR[e[0]],c=CH[e[1]],o=e[3]||{};
 var end=o.end||[c[0]-20.5,c[1]];
 var pts=[a].concat(e[2]).concat([end]);
 add(eg,'path',{d:dp(pts,o.hs!==false,o.he!==false)});
 cnt[e[1]]=(cnt[e[1]]||0)+1;
});
/* self loop on res_users */
add(eg,'path',{d:dp([[172.3,1385],[150,1440],[100,1465],[45,1450],[12,1415],[7.5,1401]],true,false)});
function mark(x,y,sw){
 add(mg,'path',{d:'M'+x+' '+(y-5.5)+' L'+(x-11.5)+' '+y+' L'+x+' '+(y+5.5)+' M'+(x-11.5)+' '+y+' L'+x+' '+y,fill:'none','stroke-width':sw});
 add(mg,'circle',{cx:x-16,cy:y,r:4.5,'stroke-width':sw});
}
for(var k in cnt){var c=CH[k];mark(c[0],c[1],cnt[k]>1?2.1:1.3);}
add(mg,'path',{d:'M15 1382 L10.5 1392 L19 1388.5 M10.5 1392 L17.3 1385',fill:'none','stroke-width':1.3});
add(mg,'circle',{cx:7.3,cy:1396.7,r:4.3,'stroke-width':1.3});
add(mg,'path',{d:'M2164 2011 L2168.3 2016 M2164 2011 L2170 2013 M2164 2011 L2166 2018',fill:'none','stroke-width':1.3});
add(mg,'circle',{cx:2161,cy:2008,r:4.3,'stroke-width':1.3});
})();
</script>
</body></html>
